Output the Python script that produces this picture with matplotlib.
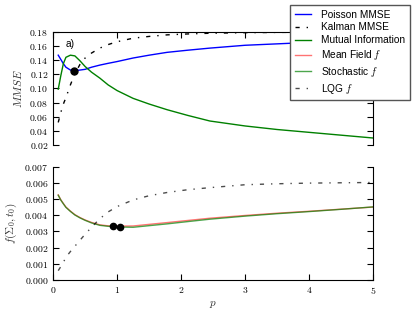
import numpy as np
import matplotlib
matplotlib.use("Agg")
import matplotlib.pyplot as plt
from matplotlib.ticker import FormatStrFormatter

plt.rcParams['mathtext.fontset'] = 'cm'
plt.rcParams['font.family'] = ['Liberation Sans', 'DejaVu Sans']

# Top panel: MMSE vs p
p_top = [0.08, 0.12, 0.16, 0.2, 0.27, 0.34, 0.42, 0.5, 0.6, 0.73, 0.86, 1.0,
         1.25, 1.5, 1.78, 2.1, 2.45, 3.0, 3.5, 4.0, 4.5, 5.0]
poisson_mmse = [0.147, 0.141, 0.135, 0.130, 0.126, 0.125, 0.126, 0.127, 0.130, 0.133, 0.1355, 0.138,
                0.143, 0.147, 0.151, 0.154, 0.157, 0.161, 0.163, 0.165, 0.1665, 0.168]
kalman_mmse = [0.052, 0.066, 0.078, 0.087, 0.105, 0.121, 0.134, 0.143, 0.150, 0.157, 0.162, 0.166,
               0.171, 0.1735, 0.1757, 0.177, 0.178, 0.1788, 0.1792, 0.1794, 0.1796, 0.1797]
mutual_info = [0.099, 0.118, 0.135, 0.144, 0.147, 0.146, 0.139, 0.131, 0.123, 0.1146, 0.105, 0.097,
               0.086, 0.078, 0.070, 0.062, 0.054, 0.047, 0.042, 0.038, 0.034, 0.030]
opt_top = (0.33, 0.125)

# Bottom panel: f(Sigma_0, t_0) vs p
p_bot = p_top
mean_field = [0.00525, 0.00495, 0.00472, 0.00450, 0.00425, 0.00403, 0.00385, 0.00370, 0.00355, 0.00340, 0.00334, 0.00332,
              0.00333, 0.00343, 0.00354, 0.00367, 0.00381, 0.00398, 0.00412, 0.00424, 0.00437, 0.00450]
stochastic = [0.00523, 0.00493, 0.00470, 0.00448, 0.00423, 0.00401, 0.00383, 0.00368, 0.00352, 0.00337, 0.00331, 0.00327,
              0.00325, 0.00335, 0.00346, 0.00360, 0.00375, 0.00394, 0.00409, 0.00422, 0.00436, 0.00451]
lqg = [0.00057, 0.00082, 0.00108, 0.00140, 0.00175, 0.00208, 0.00245, 0.00282, 0.00325, 0.00378, 0.00420, 0.00453,
       0.00494, 0.00520, 0.00540, 0.00557, 0.00570, 0.00588, 0.00594, 0.00598, 0.00600, 0.00602]
opt_bot_p = [0.94, 1.04]
opt_bot_f = [0.00335, 0.00325]

dashdot = (0, (3, 5, 1, 5))
tick_fs = 7

fig = plt.figure(figsize=(4.15, 3.12), dpi=100)
ax1 = fig.add_axes([0.128, 0.535, 0.771, 0.363])
ax2 = fig.add_axes([0.128, 0.103, 0.771, 0.363])

# top
l_poi, = ax1.plot(p_top, poisson_mmse, color='b', lw=1.0)
l_kal, = ax1.plot(p_top, kalman_mmse, color='k', lw=1.0, ls=dashdot)
l_mi, = ax1.plot(p_top, mutual_info, color='#008000', lw=1.0)
ax1.plot([opt_top[0]], [opt_top[1]], 'o', color='k', ms=5)
ax1.text(0.19, 0.1626, 'a)', fontsize=7.3, va='center', ha='left')
ax1.set_xlim(0, 5)
ax1.set_ylim(0.02, 0.18)
ax1.set_yticks(np.arange(0.02, 0.181, 0.02))
ax1.set_xticks([0, 1, 2, 3, 4, 5])
ax1.yaxis.set_major_formatter(FormatStrFormatter('$%.2f$'))
ax1.spines['bottom'].set_visible(False)
ax1.xaxis.set_ticks_position('top')
ax1.tick_params(axis='x', labeltop=False, direction='in', length=4)
ax1.tick_params(axis='y', left=True, right=True, direction='in', length=4, labelsize=tick_fs)
ax1.set_ylabel('$MMSE$', fontsize=8, color='#333333')

# bottom
l_mf, = ax2.plot(p_bot, mean_field, color='r', lw=1.0, alpha=0.55)
l_st, = ax2.plot(p_bot, stochastic, color='#008000', lw=1.0, alpha=0.7)
l_lqg, = ax2.plot(p_bot, lqg, color='k', lw=1.0, ls=dashdot, alpha=0.7)
ax2.plot(opt_bot_p, opt_bot_f, 'o', color='k', ms=4.5)
ax2.set_xlim(0, 5)
ax2.set_ylim(0, 0.007)
ax2.set_yticks(np.arange(0, 0.0071, 0.001))
ax2.set_xticks([0, 1, 2, 3, 4, 5])
ax2.yaxis.set_major_formatter(FormatStrFormatter('$%.3f$'))
ax2.xaxis.set_major_formatter(FormatStrFormatter('$%d$'))
ax2.spines['top'].set_visible(False)
ax2.xaxis.set_ticks_position('bottom')
ax2.tick_params(axis='x', direction='in', length=4, labelsize=tick_fs)
ax2.tick_params(axis='y', left=True, right=True, direction='in', length=4, labelsize=tick_fs)
ax2.set_ylabel(r'$f(\Sigma_0, t_0)$', fontsize=8, color='#333333')
ax2.set_xlabel('$p$', fontsize=8, color='#333333', labelpad=2)

handles = [l_poi, l_kal, l_mi, l_mf, l_st, l_lqg]
labels = ['Poisson MMSE', 'Kalman MMSE', 'Mutual Information',
          'Mean Field $f$', 'Stochastic $f$', 'LQG $f$']
leg = fig.legend(handles, labels, loc='upper right', bbox_to_anchor=(0.988, 0.984),
                 bbox_transform=fig.transFigure, fontsize=7.3, fancybox=False,
                 framealpha=1, edgecolor='#555555', handlelength=1.6,
                 handletextpad=1.0, labelspacing=0.28, borderpad=0.45,
                 borderaxespad=0)
leg.get_frame().set_linewidth(1.0)

fig.savefig('out.png', dpi=100)
